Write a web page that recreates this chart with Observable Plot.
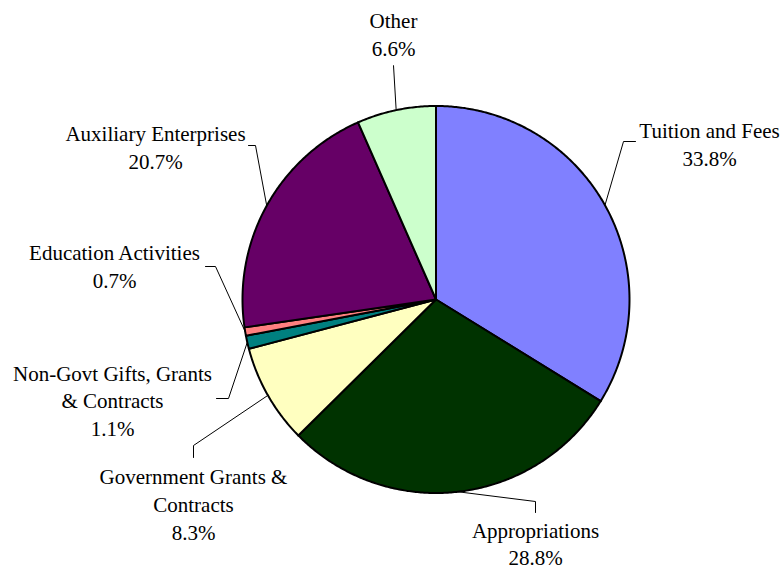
<!DOCTYPE html>
<html><head><meta charset="utf-8">
<script src="https://cdn.jsdelivr.net/npm/d3@7"></script>
<script src="https://cdn.jsdelivr.net/npm/@observablehq/plot@0.6"></script>
<style>body{margin:0;background:#fff}</style>
</head><body><div id="chart"></div>
<script>
// ---- data ----
const categories = ["Tuition and Fees", "Appropriations", "Government Grants & Contracts",
  "Non-Govt Gifts, Grants & Contracts", "Education Activities", "Auxiliary Enterprises", "Other"];
const shares = [33.8, 28.8, 8.3, 1.1, 0.7, 20.7, 6.6];
const labelText = ["Tuition and Fees", "Appropriations", "Government Grants &\nContracts",
  "Non-Govt Gifts, Grants\n& Contracts", "Education Activities", "Auxiliary Enterprises", "Other"];
const colors = ["#8080FF", "#003300", "#FFFFC0", "#008080", "#FF8080", "#660066", "#CCFFCC"];

// ---- layout (pixels) ----
const W = 783, H = 569, cx = 435.5, cy = 299, R = 193.5;
// label centre, leader elbow, leader end
const labelPos = [[709, 142.5], [535, 542], [193, 502.5], [112, 399], [114, 264.5], [155, 145.5], [393, 32.5]];
const elbows = [[623, 141], [535, 501], [193, 445], [228, 398], [215, 266], [255, 145], [393, 65]];
const ends = [[635, 141], [535, 512], [193, 457], [216, 398], [205, 266], [248, 145], [393, 65]];

const toX = px => (px - cx) / R;
const toY = py => (cy - py) / R;

const total = d3.sum(shares);
const slices = [];
const leaders = [];
const labels = [];
let acc = 0;
categories.forEach((name, i) => {
  const a0 = acc / total * 2 * Math.PI;
  acc += shares[i];
  const a1 = acc / total * 2 * Math.PI;
  const n = Math.max(2, Math.ceil((a1 - a0) / (Math.PI / 360)));
  slices.push({name, x: 0, y: 0});
  for (let k = 0; k <= n; k++) {
    const a = a0 + (a1 - a0) * k / n;
    slices.push({name, x: Math.sin(a), y: Math.cos(a)});
  }
  slices.push({name, x: 0, y: 0});
  const am = (a0 + a1) / 2;
  leaders.push({name, x: Math.sin(am), y: Math.cos(am)});
  leaders.push({name, x: toX(elbows[i][0]), y: toY(elbows[i][1])});
  leaders.push({name, x: toX(ends[i][0]), y: toY(ends[i][1])});
  labels.push({name, x: toX(labelPos[i][0]), y: toY(labelPos[i][1]),
    text: labelText[i] + "\n" + shares[i].toFixed(1) + "%"});
});

const chart = Plot.plot({
  width: W, height: H, margin: 0,
  x: {domain: [toX(0), toX(W)], range: [0, W], axis: null},
  y: {domain: [toY(H), toY(0)], range: [H, 0], axis: null},
  color: {domain: categories, range: colors},
  style: {background: "#fff"},
  marks: [
    Plot.line(slices, {x: "x", y: "y", z: "name", fill: "name", stroke: "#000", strokeWidth: 2, strokeLinejoin: "round"}),
    Plot.line(leaders, {x: "x", y: "y", z: "name", stroke: "#000", strokeWidth: 1}),
    Plot.text(labels, {x: "x", y: "y", text: "text", fontSize: 21, fontFamily: "Liberation Serif",
      lineHeight: 1.32, textAnchor: "middle", fill: "#000"})
  ]
});
document.getElementById("chart").appendChild(chart);
</script>
</body></html>
